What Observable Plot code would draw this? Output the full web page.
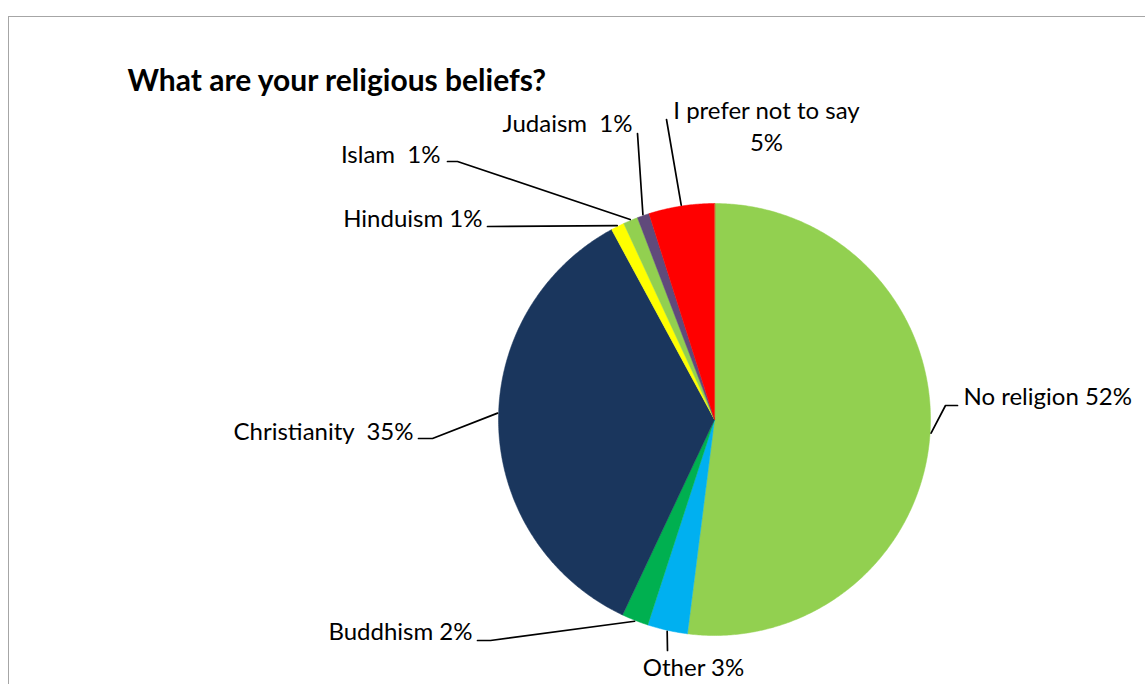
<!DOCTYPE html>
<html><head><meta charset="utf-8">
<script src="https://cdn.jsdelivr.net/npm/d3@7"></script>
<script src="https://cdn.jsdelivr.net/npm/@observablehq/plot@0.6"></script>
<style>
html,body{margin:0;padding:0;background:#fff;overflow:hidden;width:1145px;height:684px}
#frame{position:absolute;left:8px;top:16px;width:1300px;height:900px;border:1.5px solid #a6a6a6;box-sizing:border-box}
#chart{position:absolute;left:0;top:0}
</style></head><body><div id="frame"></div><div id="chart"></div>
<script>
// ---- data ----
const title = "What are your religious beliefs?";
const categories = ["No religion","Other","Buddhism","Christianity","Hinduism","Islam","Judaism","I prefer not to say"];
const values = [52.0, 3.0, 2.0, 35.1, 1.0, 1.1, 0.9, 4.9];
const labels = ["No religion 52%","Other 3%","Buddhism 2%","Christianity  35%","Hinduism 1%","Islam  1%","Judaism  1%","I prefer not to say\n5%"];
const colors = ["#92D050","#00B0F0","#00B050","#1A365D","#FFFF00","#92D050","#604A7B","#FF0000"];

// ---- layout (pixels) ----
const W = 1145, H = 684;
const cx = 714, cy = 419, R = 216;
const labelLayout = [
  {x: 963, y: 404, anchor: "start",  path: [[945,405],[957,405]]},
  {x: 693, y: 675, anchor: "middle", path: [[667,650]]},
  {x: 472, y: 639, anchor: "end",    path: [[490,640],[477,640]]},
  {x: 413, y: 439, anchor: "end",    path: [[432,438],[418,438]], nudge: 3.3},
  {x: 482, y: 226, anchor: "end",    path: [[487,226]]},
  {x: 440, y: 162, anchor: "end",    path: [[457,161],[447,161]]},
  {x: 632, y: 131, anchor: "end",    path: [[637,133]]},
  {x: 766, y: 150, anchor: "middle", path: [[666,119]]}
];

const arcs = d3.pie().sort(null).value(d => d)(values);
const pt = (a, r) => [cx + r * Math.sin(a), cy - r * Math.cos(a)];

// slice polygons
const slicePts = [];
arcs.forEach((a, i) => {
  const name = categories[i];
  slicePts.push({name, x: cx, y: cy});
  const n = Math.max(2, Math.ceil((a.endAngle - a.startAngle) / (Math.PI / 360)));
  for (let k = 0; k <= n; k++) {
    const t = a.startAngle + (a.endAngle - a.startAngle) * k / n;
    const [x, y] = pt(t, R);
    slicePts.push({name, x, y});
  }
});

// leader lines
const leaderPts = [];
arcs.forEach((a, i) => {
  const L = labelLayout[i];
  const mid = (a.startAngle + a.endAngle) / 2 + (L.nudge || 0) * Math.PI / 180;
  const [x0, y0] = pt(mid, R + 1);
  leaderPts.push({id: i, x: x0, y: y0});
  L.path.forEach(([x, y]) => leaderPts.push({id: i, x, y}));
});

const textData = labels.map((t, i) => ({text: t, ...labelLayout[i]}));

const font = "Lato, 'Open Sans', sans-serif";

const chart = Plot.plot({
  width: W, height: H,
  margin: 0,
  x: {type: "identity", axis: null},
  y: {type: "identity", axis: null},
  color: {domain: categories, range: colors},
  style: {fontFamily: font, background: "transparent"},
  marks: [
    Plot.line(slicePts, {x: "x", y: "y", z: "name", fill: "name", stroke: "name", strokeWidth: 0.5, curve: "linear-closed"}),
    Plot.line(leaderPts, {x: "x", y: "y", z: "id", stroke: "#000", strokeWidth: 1.7}),
    Plot.text(textData.filter(d => d.anchor === "start"), {x: "x", y: "y", text: "text", textAnchor: "start", lineAnchor: "bottom", fontSize: 24, fill: "#000", lineHeight: 1.33}),
    Plot.text(textData.filter(d => d.anchor === "end"), {x: "x", y: "y", text: "text", textAnchor: "end", lineAnchor: "bottom", fontSize: 24, fill: "#000", lineHeight: 1.33}),
    Plot.text(textData.filter(d => d.anchor === "middle"), {x: "x", y: "y", text: "text", textAnchor: "middle", lineAnchor: "bottom", fontSize: 24, fill: "#000", lineHeight: 1.33}),
    Plot.text([title], {frameAnchor: "top-left", dx: 127, dy: 90, text: d => d, textAnchor: "start", lineAnchor: "bottom", fontSize: 30, fontWeight: "bold", fill: "#000"})
  ]
});
document.getElementById("chart").appendChild(chart);
</script>
</body></html>
